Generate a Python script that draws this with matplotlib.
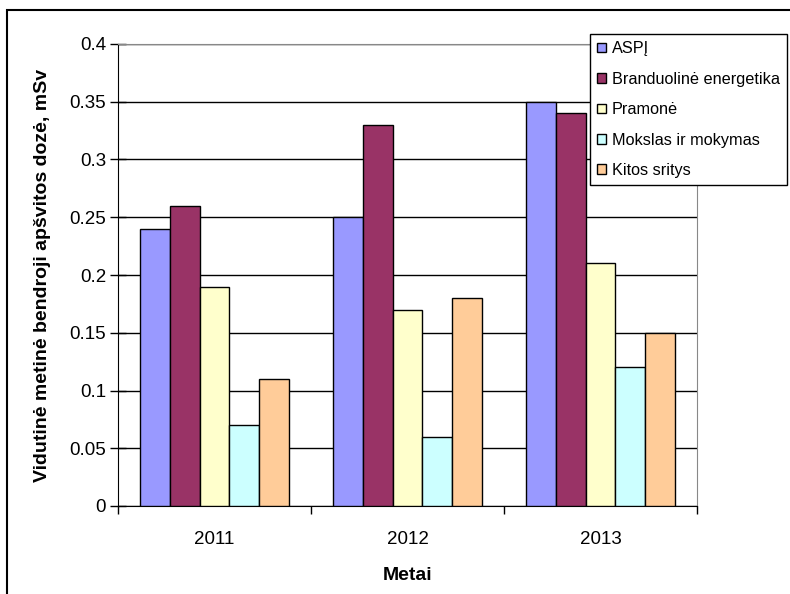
import matplotlib.pyplot as plt
import numpy as np
from matplotlib.patches import Rectangle

plt.rcParams['font.family'] = ['Liberation Sans', 'DejaVu Sans']

metai = ["2011", "2012", "2013"]
sritys = ["ASPĮ", "Branduolinė energetika", "Pramonė",
          "Mokslas ir mokymas", "Kitos sritys"]
aspi = [0.24, 0.25, 0.35]
branduoline = [0.26, 0.33, 0.34]
pramone = [0.19, 0.17, 0.21]
mokslas = [0.07, 0.06, 0.12]
kitos = [0.11, 0.18, 0.15]
spalvos = ["#9999FF", "#993366", "#FFFFCC", "#CCFFFF", "#FFCC99"]

serijos = [aspi, branduoline, pramone, mokslas, kitos]

fig = plt.figure(figsize=(7.9, 5.94), dpi=100)
ax = fig.add_axes([118/790, 1-506/594, (697-118)/790, (506-44)/594])

x = np.arange(len(metai))
w = 0.155
for i, (vals, lab, c) in enumerate(zip(serijos, sritys, spalvos)):
    ax.bar(x + (i - 2) * w, vals, w, color=c, edgecolor="black",
           linewidth=1, label=lab, zorder=3)

ax.set_xlim(-0.5, 2.5)
ax.set_ylim(0, 0.4)
ax.set_yticks(np.arange(0, 0.41, 0.05))
ax.set_yticklabels(["0", "0.05", "0.1", "0.15", "0.2", "0.25", "0.3", "0.35", "0.4"])
ax.yaxis.grid(True, color="black", linewidth=1, zorder=0)
ax.set_axisbelow(True)

# category ticks sit between the groups, labels in the middle
ax.set_xticks([-0.5, 0.5, 1.5, 2.5])
ax.set_xticklabels([])
ax.set_xticks(x, minor=True)
ax.set_xticklabels(metai, minor=True)
ax.tick_params(axis="x", which="major", direction="out", length=6, width=1)
ax.tick_params(axis="x", which="minor", length=0, pad=18, labelsize=13.5)
ax.tick_params(axis="y", direction="inout", length=11, width=1, labelsize=13.5, pad=3)

for s in ["left", "bottom"]:
    ax.spines[s].set_color("black")
for s in ["top", "right"]:
    ax.spines[s].set_color("#888888")

ax.set_ylabel("Vidutinė metinė bendroji apšvitos dozė, mSv",
              fontsize=14, fontweight="bold", labelpad=13)
ax.set_xlabel("Metai", fontsize=14, fontweight="bold", labelpad=14)

fig.legend(loc="upper left", bbox_to_anchor=(590/790, 1-34/594),
           bbox_transform=fig.transFigure, fontsize=11.7, frameon=True,
           fancybox=False, edgecolor="black", framealpha=1,
           handlelength=0.55, handleheight=0.55, handletextpad=0.35,
           labelspacing=0.95, borderpad=0.45, borderaxespad=0)

# outer chart frame
fig.patches.append(Rectangle((7/790, -0.1), 1.1, 1 - 10/594 + 0.1,
                             transform=fig.transFigure, fill=False,
                             edgecolor="black", linewidth=1.5))

fig.savefig("out.png", dpi=100)
